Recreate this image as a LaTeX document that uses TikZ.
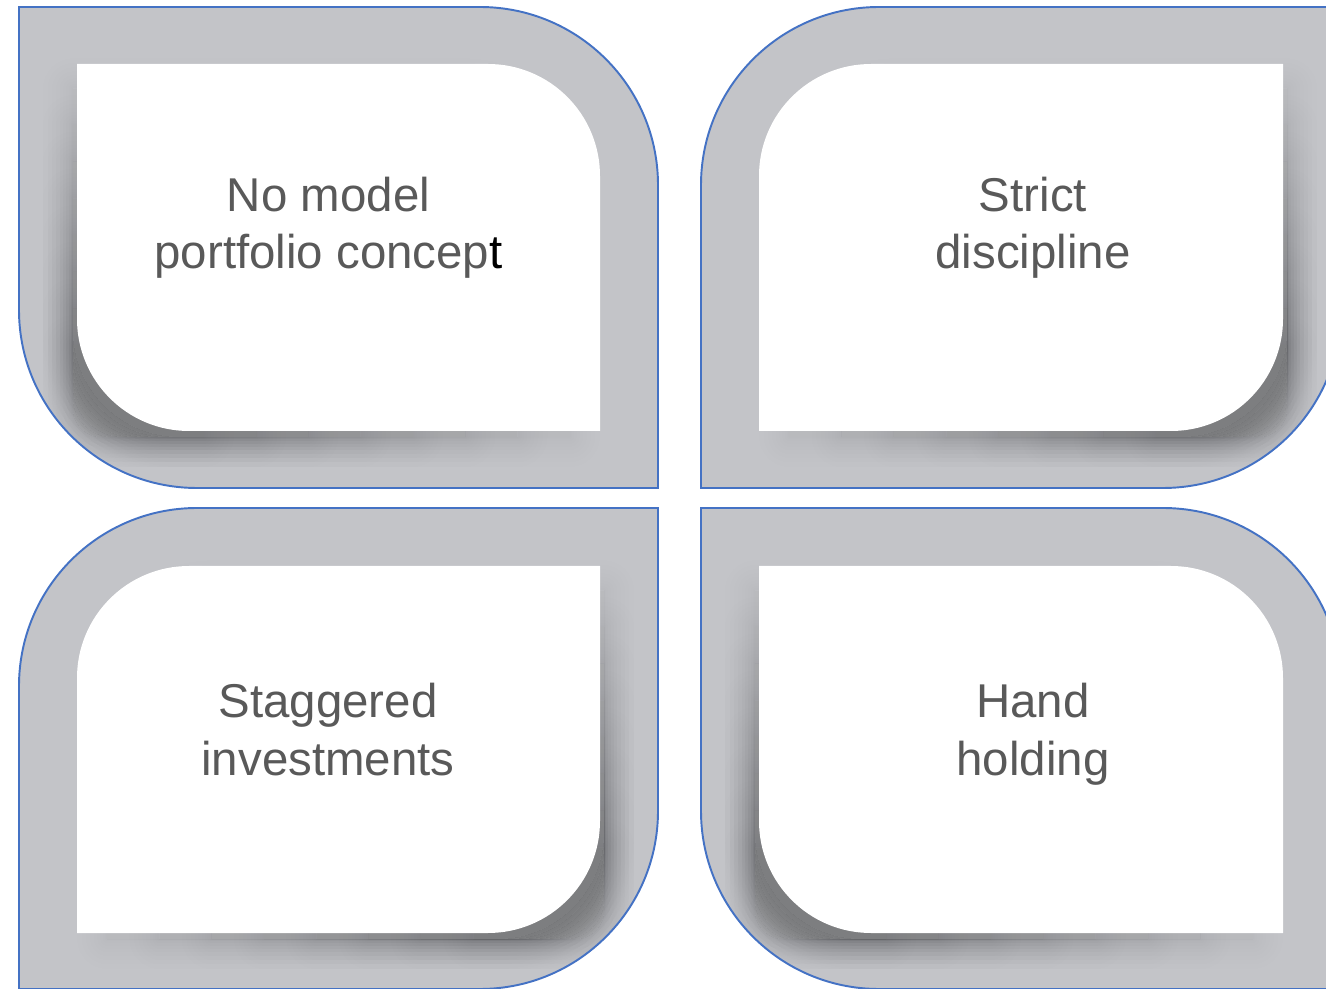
\documentclass[tikz,border=0pt]{standalone}
\usepackage{fontspec}
\setmainfont{Liberation Sans}
\definecolor{framegray}{HTML}{C3C4C8}
\definecolor{edgeblue}{HTML}{4472C4}
\definecolor{textgray}{HTML}{595959}
% shape with rounded top-right and bottom-left corners
\newcommand\shapeA[5]{(#1,#2) -- ({#3-#5},#2) .. controls ({#3-0.4477*#5},#2) and (#3,{#2+0.4477*#5}) .. (#3,{#2+#5}) -- (#3,#4) -- ({#1+#5},#4) .. controls ({#1+0.4477*#5},#4) and (#1,{#4-0.4477*#5}) .. (#1,{#4-#5}) -- cycle}
% shape with rounded top-left and bottom-right corners
\newcommand\shapeB[5]{(#1,{#2+#5}) .. controls (#1,{#2+0.4477*#5}) and ({#1+0.4477*#5},#2) .. ({#1+#5},#2) -- (#3,#2) -- (#3,{#4-#5}) .. controls (#3,{#4-0.4477*#5}) and ({#3-0.4477*#5},#4) .. ({#3-#5},#4) -- (#1,#4) -- cycle}
% soft shadow: inner path, anchor x, anchor y, x offset, outer path (clip)
\newcommand\dropshadow[5]{%
  \begin{scope}
  \clip #5;
  \foreach \s in {0.25,0.35,...,0.96}{%
  \begin{scope}[shift={({#2+#4},{#3+6})},scale=\s,shift={({-#2},{-#3})}]
    \fill[black,opacity=0.05] #1;
    \begin{scope}[even odd rule]
      \clip (-3000,-3000) rectangle (5000,5000) #1;
      \foreach \i in {1,...,10}{\draw[black,opacity=0.0052,line join=round,line width={1.2cm*(\i/10)^1.6}] #1;}
    \end{scope}
  \end{scope}}
  \end{scope}}
\begin{document}
\begin{tikzpicture}[x=0.02cm,y=-0.02cm,
  framefill/.style={fill=framegray},
  outline/.style={draw=edgeblue,line width=1.1pt},
  inner/.style={fill=white},
  label/.style={text=textgray,align=center,inner sep=0pt,
    font=\fontsize{27}{32.6}\selectfont}]
\useasboundingbox (0,0) rectangle (1326,989);
\clip (0,0) rectangle (1326,989);
% top-left
\path[framefill] \shapeA{19}{7}{658}{488}{178};
\dropshadow{\shapeA{77}{64}{600}{431}{112}}{77}{431}{-4}{\shapeA{19}{7}{658}{488}{178}}
\path[inner] \shapeA{77}{64}{600}{431}{112};
\path[outline] \shapeA{19}{7}{658}{488}{178};
% top-right
\path[framefill] \shapeB{701}{7}{1341}{488}{178};
\dropshadow{\shapeB{759}{64}{1283}{431}{112}}{1283}{431}{4}{\shapeB{701}{7}{1341}{488}{178}}
\path[inner] \shapeB{759}{64}{1283}{431}{112};
\path[outline] \shapeB{701}{7}{1341}{488}{178};
% bottom-left
\path[framefill] \shapeB{19}{508}{658}{989}{178};
\dropshadow{\shapeB{77}{566}{600}{933}{112}}{600}{933}{4}{\shapeB{19}{508}{658}{989}{178}}
\path[inner] \shapeB{77}{566}{600}{933}{112};
\path[outline] \shapeB{19}{508}{658}{989}{178};
% bottom-right
\path[framefill] \shapeA{701}{508}{1341}{989}{178};
\dropshadow{\shapeA{759}{566}{1283}{933}{112}}{759}{933}{-4}{\shapeA{701}{508}{1341}{989}{178}}
\path[inner] \shapeA{759}{566}{1283}{933}{112};
\path[outline] \shapeA{701}{508}{1341}{989}{178};
% labels
\node[label] (tl) at (328.5,228.5) {\strut No model\\\strut portfolio concep\textcolor{black}{t}};
\node[label] (tr) at (1033,228.5) {\strut Strict\\\strut discipline};
\node[label] (bl) at (328,735) {\strut Staggered\\\strut investments};
\node[label] (br) at (1033,735) {\strut Hand\\\strut holding};
\end{tikzpicture}
\end{document}
